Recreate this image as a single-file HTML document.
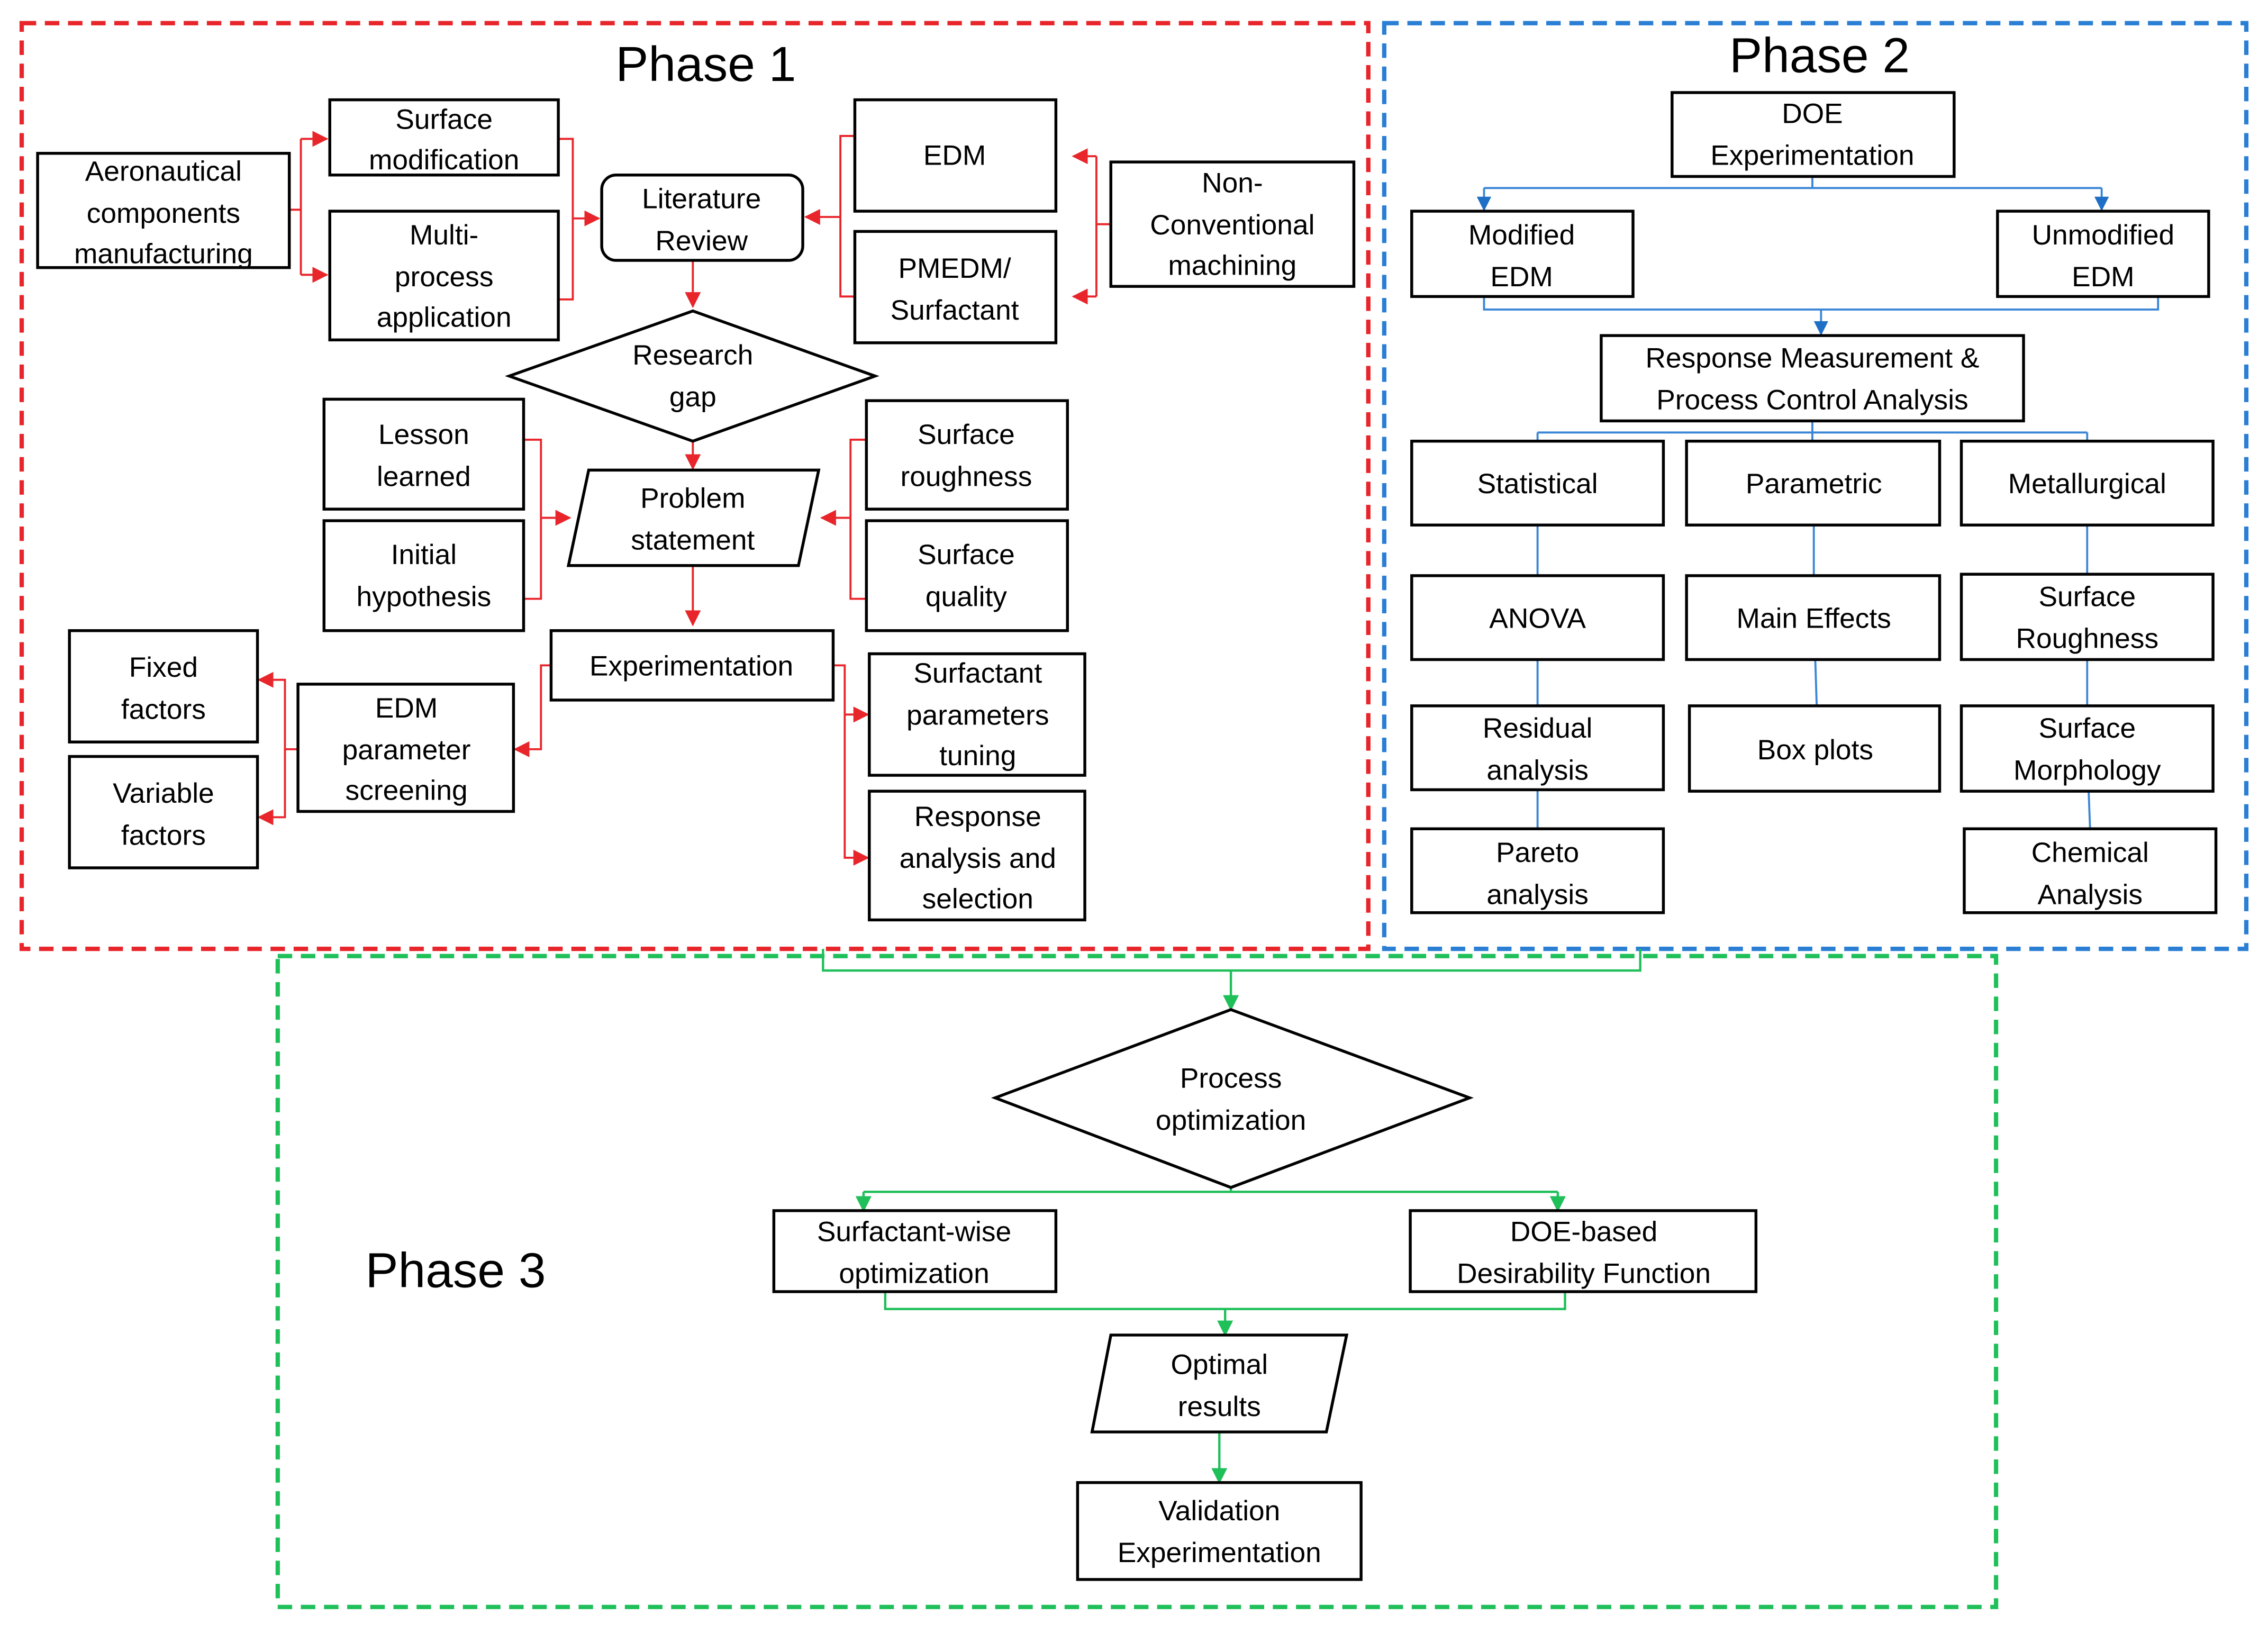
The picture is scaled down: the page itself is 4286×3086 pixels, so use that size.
<!DOCTYPE html>
<html><head><meta charset="utf-8"><style>
html,body{margin:0;padding:0;background:#fff}
svg{display:block}
text{font-family:"Liberation Sans",sans-serif;font-size:19.5px;fill:#000;text-anchor:middle}
.b{fill:#fff;stroke:#000;stroke-width:2}
.r{stroke:#e8252a;stroke-width:1.4;fill:none}
.u{stroke:#3a86d6;stroke-width:1.4;fill:none}
.g{stroke:#1fbf5a;stroke-width:1.6;fill:none}
.t{font-size:34px}
</style></head><body>
<svg width="4286" height="3086" viewBox="0 0 1568 1129" xmlns="http://www.w3.org/2000/svg">
<defs>
<marker id="ar" markerWidth="11" markerHeight="11" refX="10" refY="5.5" orient="auto" markerUnits="userSpaceOnUse" viewBox="0 0 11 11"><path d="M0,0 L11,5.5 L0,11z" fill="#e8252a"/></marker>
<marker id="ab" markerWidth="10" markerHeight="10" refX="9" refY="5" orient="auto" markerUnits="userSpaceOnUse" viewBox="0 0 10 10"><path d="M0,0 L10,5 L0,10z" fill="#1f6fc6"/></marker>
<marker id="ag" markerWidth="11" markerHeight="11" refX="10" refY="5.5" orient="auto" markerUnits="userSpaceOnUse" viewBox="0 0 11 11"><path d="M0,0 L11,5.5 L0,11z" fill="#1fbf5a"/></marker>
</defs>
<rect width="1568" height="1129" fill="#fff"/>
<rect x="15" y="16" width="931" height="640" fill="none" stroke="#e8252a" stroke-width="3" stroke-dasharray="10,6"/>
<rect x="957" y="16" width="596" height="640" fill="none" stroke="#2a7fd4" stroke-width="3" stroke-dasharray="10,6"/>
<rect x="192" y="661" width="1188" height="450" fill="none" stroke="#1fbf5a" stroke-width="3" stroke-dasharray="10,6"/>
<text x="488" y="56" class="t">Phase 1</text>
<text x="1258" y="50" class="t">Phase 2</text>
<text x="315" y="890" class="t">Phase 3</text>

<path class="r" d="M200,145 H208 M208,96 V190 M208,96 H226" marker-end="url(#ar)"/>
<path class="r" d="M208,190 H226" marker-end="url(#ar)"/>
<path class="r" d="M386,96 H396 V207 H386 M396,151 H414" marker-end="url(#ar)"/>
<path class="r" d="M591,94 H581 V205 H591 M581,150 H557" marker-end="url(#ar)"/>
<path class="r" d="M768,155 H758 M758,108 V205 M758,108 H742" marker-end="url(#ar)"/>
<path class="r" d="M758,205 H742" marker-end="url(#ar)"/>
<path class="r" d="M479,180 V212" marker-end="url(#ar)"/>
<path class="r" d="M479,305 V324" marker-end="url(#ar)"/>
<path class="r" d="M362,304 H374 V414 H362 M374,358 H394" marker-end="url(#ar)"/>
<path class="r" d="M599,304 H588 V414 H599 M588,358 H568" marker-end="url(#ar)"/>
<path class="r" d="M479,391 V432" marker-end="url(#ar)"/>
<path class="r" d="M381,460 H374 V518 H356" marker-end="url(#ar)"/>
<path class="r" d="M206,518 H197 V470 H179" marker-end="url(#ar)"/>
<path class="r" d="M197,518 V565 H179" marker-end="url(#ar)"/>
<path class="r" d="M576,460 H584 V593 H600" marker-end="url(#ar)"/>
<path class="r" d="M584,494 H600" marker-end="url(#ar)"/>

<rect class="b" x="26" y="106" width="174" height="79"/>
<text x="113" y="125">Aeronautical</text><text x="113" y="154">components</text><text x="113" y="182">manufacturing</text>
<rect class="b" x="228" y="69" width="158" height="52"/>
<text x="307" y="89">Surface</text><text x="307" y="117">modification</text>
<rect class="b" x="228" y="146" width="158" height="89"/>
<text x="307" y="169">Multi-</text><text x="307" y="198">process</text><text x="307" y="226">application</text>
<rect class="b" x="416" y="121" width="139" height="59" rx="10"/>
<text x="485" y="144">Literature</text><text x="485" y="173">Review</text>
<rect class="b" x="591" y="69" width="139" height="77"/>
<text x="660" y="114">EDM</text>
<rect class="b" x="591" y="160" width="139" height="77"/>
<text x="660" y="192">PMEDM/</text><text x="660" y="221">Surfactant</text>
<rect class="b" x="768" y="112" width="168" height="86"/>
<text x="852" y="133">Non-</text><text x="852" y="162">Conventional</text><text x="852" y="190">machining</text>
<polygon class="b" points="352,260 479,215 605,260 479,305"/>
<text x="479" y="252">Research</text><text x="479" y="281">gap</text>
<rect class="b" x="224" y="276" width="138" height="76"/>
<text x="293" y="307">Lesson</text><text x="293" y="336">learned</text>
<rect class="b" x="224" y="360" width="138" height="76"/>
<text x="293" y="390">Initial</text><text x="293" y="419">hypothesis</text>
<polygon class="b" points="407,325 566,325 552,391 393,391"/>
<text x="479" y="351">Problem</text><text x="479" y="380">statement</text>
<rect class="b" x="599" y="277" width="139" height="75"/>
<text x="668" y="307">Surface</text><text x="668" y="336">roughness</text>
<rect class="b" x="599" y="360" width="139" height="76"/>
<text x="668" y="390">Surface</text><text x="668" y="419">quality</text>
<rect class="b" x="381" y="436" width="195" height="48"/>
<text x="478" y="467">Experimentation</text>
<rect class="b" x="48" y="436" width="130" height="77"/>
<text x="113" y="468">Fixed</text><text x="113" y="497">factors</text>
<rect class="b" x="48" y="523" width="130" height="77"/>
<text x="113" y="555">Variable</text><text x="113" y="584">factors</text>
<rect class="b" x="206" y="473" width="149" height="88"/>
<text x="281" y="496">EDM</text><text x="281" y="525">parameter</text><text x="281" y="553">screening</text>
<rect class="b" x="601" y="452" width="149" height="84"/>
<text x="676" y="472">Surfactant</text><text x="676" y="501">parameters</text><text x="676" y="529">tuning</text>
<rect class="b" x="601" y="547" width="149" height="89"/>
<text x="676" y="571">Response</text><text x="676" y="600">analysis and</text><text x="676" y="628">selection</text>

<path class="u" d="M1253,122 V130 M1026,130 H1453"/>
<path class="u" d="M1026,130 V145" marker-end="url(#ab)"/>
<path class="u" d="M1453,130 V145" marker-end="url(#ab)"/>
<path class="u" d="M1026,205 V214 H1492 V205"/>
<path class="u" d="M1259,214 V231" marker-end="url(#ab)"/>
<path class="u" d="M1253,291 V299 M1063,299 H1443 M1063,299 V305 M1253,299 V305 M1443,299 V305"/>
<path class="u" d="M1063,363 V398 M1063,456 V488 M1063,546 V573 M1254,363 V398 M1255,456 L1256,488 M1443,363 V397 M1443,456 V488 M1444,547 L1445,573"/>

<rect class="b" x="1156" y="64" width="195" height="58"/>
<text x="1253" y="85">DOE</text><text x="1253" y="114">Experimentation</text>
<rect class="b" x="976" y="146" width="153" height="59"/>
<text x="1052" y="169">Modified</text><text x="1052" y="198">EDM</text>
<rect class="b" x="1381" y="146" width="146" height="59"/>
<text x="1454" y="169">Unmodified</text><text x="1454" y="198">EDM</text>
<rect class="b" x="1107" y="232" width="292" height="59"/>
<text x="1253" y="254">Response Measurement &amp;</text><text x="1253" y="283">Process Control Analysis</text>
<rect class="b" x="976" y="305" width="174" height="58"/><text x="1063" y="341">Statistical</text>
<rect class="b" x="1166" y="305" width="175" height="58"/><text x="1254" y="341">Parametric</text>
<rect class="b" x="1356" y="305" width="174" height="58"/><text x="1443" y="341">Metallurgical</text>
<rect class="b" x="976" y="398" width="174" height="58"/><text x="1063" y="434">ANOVA</text>
<rect class="b" x="1166" y="398" width="175" height="58"/><text x="1254" y="434">Main Effects</text>
<rect class="b" x="1356" y="397" width="174" height="59"/>
<text x="1443" y="419">Surface</text><text x="1443" y="448">Roughness</text>
<rect class="b" x="976" y="488" width="174" height="58"/>
<text x="1063" y="510">Residual</text><text x="1063" y="539">analysis</text>
<rect class="b" x="1168" y="488" width="173" height="59"/><text x="1255" y="525">Box plots</text>
<rect class="b" x="1356" y="488" width="174" height="59"/>
<text x="1443" y="510">Surface</text><text x="1443" y="539">Morphology</text>
<rect class="b" x="976" y="573" width="174" height="58"/>
<text x="1063" y="596">Pareto</text><text x="1063" y="625">analysis</text>
<rect class="b" x="1358" y="573" width="174" height="58"/>
<text x="1445" y="596">Chemical</text><text x="1445" y="625">Analysis</text>

<path class="g" d="M569,656 V671 H1134 V656"/>
<path class="g" d="M851,671 V698" marker-end="url(#ag)"/>
<path class="g" d="M851,821 V824 M597,824 H1077"/>
<path class="g" d="M597,824 V837" marker-end="url(#ag)"/>
<path class="g" d="M1077,824 V837" marker-end="url(#ag)"/>
<path class="g" d="M612,893 V905 H1082 V893"/>
<path class="g" d="M847,905 V923" marker-end="url(#ag)"/>
<path class="g" d="M843,990 V1025" marker-end="url(#ag)"/>

<polygon class="b" points="688,759 851,698 1016,759 851,821"/>
<text x="851" y="752">Process</text><text x="851" y="781">optimization</text>
<rect class="b" x="535" y="837" width="195" height="56"/>
<text x="632" y="858">Surfactant-wise</text><text x="632" y="887">optimization</text>
<rect class="b" x="975" y="837" width="239" height="56"/>
<text x="1095" y="858">DOE-based</text><text x="1095" y="887">Desirability Function</text>
<polygon class="b" points="768,923 931,923 917,990 755,990"/>
<text x="843" y="950">Optimal</text><text x="843" y="979">results</text>
<rect class="b" x="745" y="1025" width="196" height="67"/>
<text x="843" y="1051">Validation</text><text x="843" y="1080">Experimentation</text>
</svg>
</body></html>
